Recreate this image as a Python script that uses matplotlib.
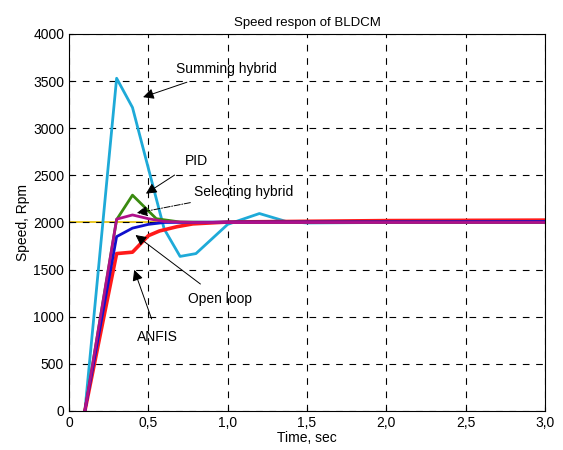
import matplotlib
matplotlib.use("Agg")
import matplotlib.pyplot as plt
from matplotlib.ticker import FuncFormatter

plt.rcParams['font.family'] = ['Liberation Sans', 'DejaVu Sans']

# Summing hybrid (cyan)
t_sum = [0.1, 0.3, 0.4, 0.6, 0.7, 0.8, 1.0, 1.2, 1.37, 1.5, 2.0, 3.0]
v_sum = [0, 3530, 3220, 1930, 1640, 1670, 1980, 2095, 2010, 1995, 2000, 2000]

# PID (green)
t_pid = [0.1, 0.3, 0.4, 0.55, 0.7, 1.0, 3.0]
v_pid = [0, 2030, 2290, 2040, 2005, 2000, 2000]

# Selecting hybrid (magenta)
t_sel = [0.1, 0.3, 0.4, 0.5, 0.6, 0.8, 3.0]
v_sel = [0, 2035, 2080, 2040, 2010, 2000, 2000]

# Open loop (blue)
t_open = [0.1, 0.3, 0.4, 0.5, 0.6, 1.0, 3.0]
v_open = [0, 1850, 1940, 1980, 2000, 2005, 2010]

# ANFIS (red)
t_anfis = [0.1, 0.3, 0.4, 0.5, 0.57, 0.68, 0.78, 1.0, 2.0, 3.0]
v_anfis = [0, 1670, 1685, 1860, 1910, 1955, 1985, 2005, 2020, 2025]

ref_speed = 2000

fig = plt.figure(figsize=(5.63, 4.5), dpi=100)
ax = fig.add_axes([0.1226, 0.0867, 0.8454, 0.8378])

ax.axhline(ref_speed, color='#e8c000', linewidth=1.2, zorder=1)
ax.plot(t_sum, v_sum, color='#1eaad8', linewidth=2)
ax.plot(t_pid, v_pid, color='#3a8a10', linewidth=2)
ax.plot(t_anfis, v_anfis, color='#ff1a1a', linewidth=2.6)
ax.plot(t_open, v_open, color='#1010cc', linewidth=2)
ax.plot(t_sel, v_sel, color='#b0108a', linewidth=2)

ax.set_xlim(0, 3)
ax.set_ylim(0, 4000)
ax.set_xticks([0, 0.5, 1.0, 1.5, 2.0, 2.5, 3.0])
ax.set_yticks(range(0, 4001, 500))
ax.xaxis.set_major_formatter(FuncFormatter(lambda v, p: '0' if v == 0 else ('%.1f' % v).replace('.', ',')))
ax.grid(True, color='black', linestyle=(0, (6, 6)), linewidth=0.8)
ax.tick_params(labelsize=10, direction='in', length=3)

ax.set_title('Speed respon of BLDCM', fontsize=9.5)
ax.set_xlabel('Time, sec', fontsize=10, labelpad=1)
ax.set_ylabel('Speed, Rpm', fontsize=10, labelpad=2)

arr = dict(arrowstyle='-|>', color='black', linewidth=0.7, mutation_scale=16)
ax.annotate('Summing hybrid', xy=(0.45, 3320), xytext=(0.99, 3630), ha='center', va='center',
            fontsize=10, arrowprops=dict(arr, shrinkA=8))
ax.annotate('PID', xy=(0.47, 2290), xytext=(0.8, 2650), ha='center', va='center',
            fontsize=10, arrowprops=dict(arr, shrinkA=6))
ax.annotate('Selecting hybrid', xy=(0.41, 2095), xytext=(1.1, 2320), ha='center', va='center',
            fontsize=10, arrowprops=dict(arr, linestyle='-.', shrinkA=2))
ax.annotate('Open loop', xy=(0.405, 1885), xytext=(0.75, 1190), ha='left', va='center',
            fontsize=10, arrowprops=dict(arr, shrinkA=6))
ax.annotate('ANFIS', xy=(0.405, 1525), xytext=(0.56, 790), ha='center', va='center',
            fontsize=10, arrowprops=dict(arr, shrinkA=6))

fig.savefig('out.png', dpi=100)
